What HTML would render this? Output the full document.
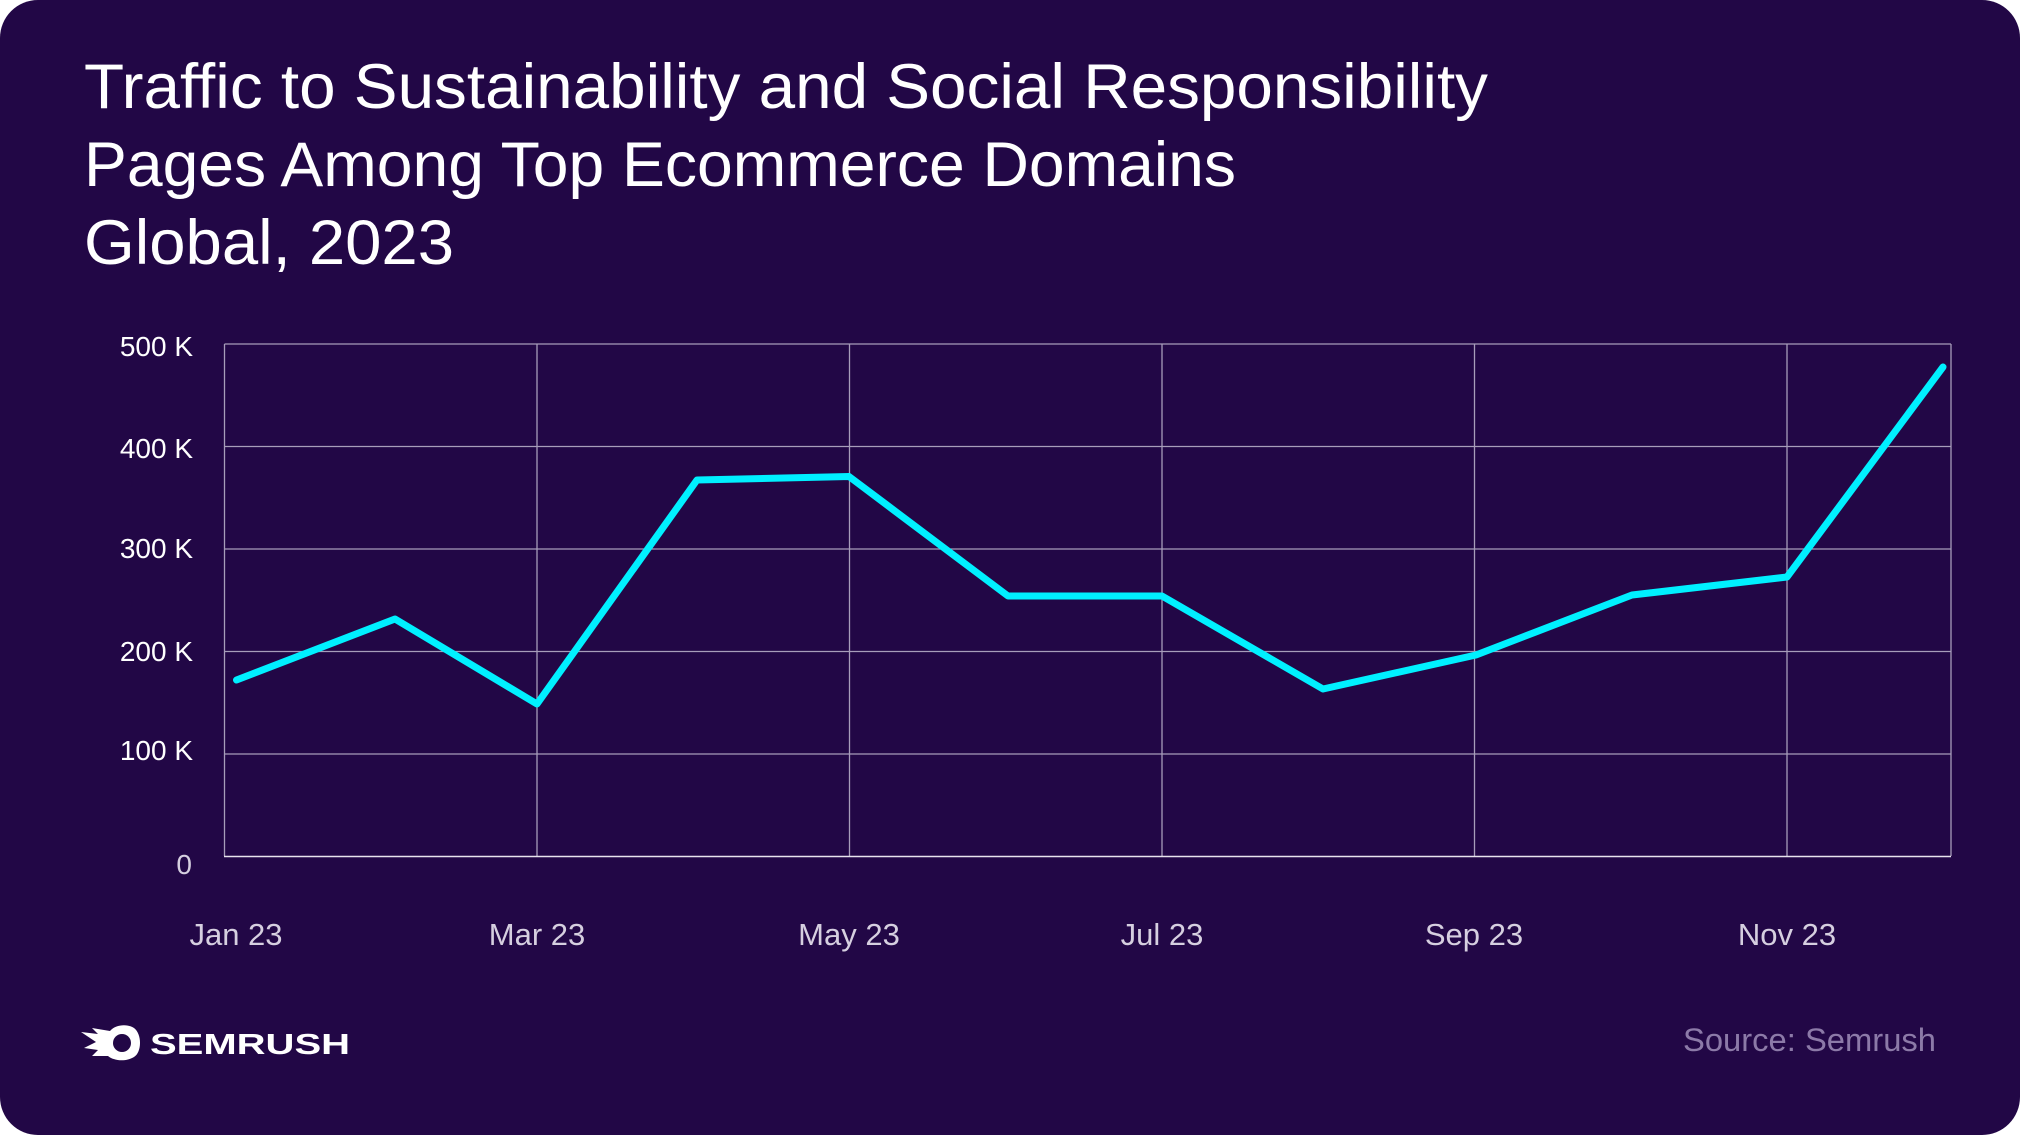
<!DOCTYPE html>
<html><head><meta charset="utf-8"><style>
html,body{margin:0;padding:0;background:#fff;}
svg{display:block;}
</style></head><body>
<svg width="2020" height="1137" viewBox="0 0 2020 1137" xmlns="http://www.w3.org/2000/svg" font-family="Liberation Sans, sans-serif">
<rect x="0" y="0" width="2020" height="1135" rx="38" fill="#220746"/>
<g fill="#ffffff" font-size="63">
<text x="84" y="108" textLength="1404" lengthAdjust="spacingAndGlyphs">Traffic to Sustainability and Social Responsibility</text>
<text x="84" y="186" textLength="1152" lengthAdjust="spacingAndGlyphs">Pages Among Top Ecommerce Domains</text>
<text x="84" y="264" textLength="370" lengthAdjust="spacingAndGlyphs">Global, 2023</text>
</g>
<g stroke="#a79dba" stroke-width="1.3" fill="none">
<line x1="224.5" y1="344" x2="1951" y2="344"/>
<line x1="224.5" y1="446.5" x2="1951" y2="446.5"/>
<line x1="224.5" y1="549" x2="1951" y2="549"/>
<line x1="224.5" y1="651.5" x2="1951" y2="651.5"/>
<line x1="224.5" y1="754" x2="1951" y2="754"/>
<line x1="224.5" y1="344" x2="224.5" y2="856"/>
<line x1="537" y1="344" x2="537" y2="856"/>
<line x1="849.5" y1="344" x2="849.5" y2="856"/>
<line x1="1162" y1="344" x2="1162" y2="856"/>
<line x1="1474.5" y1="344" x2="1474.5" y2="856"/>
<line x1="1787" y1="344" x2="1787" y2="856"/>
<line x1="1951" y1="344" x2="1951" y2="856"/>
</g>
<line x1="224" y1="856.5" x2="1951" y2="856.5" stroke="#e8e4ee" stroke-width="1.6"/>
<g fill="#ffffff" font-size="28" text-anchor="end">
<text x="193" y="356">500 K</text>
<text x="193" y="458">400 K</text>
<text x="193" y="558">300 K</text>
<text x="193" y="661">200 K</text>
<text x="193" y="760">100 K</text>
<text x="192" y="874" fill="#d6cfe0">0</text>
</g>
<g fill="#d6cfe0" font-size="31" text-anchor="middle">
<text x="236" y="945">Jan 23</text>
<text x="537" y="945">Mar 23</text>
<text x="849" y="945">May 23</text>
<text x="1162" y="945">Jul 23</text>
<text x="1474" y="945">Sep 23</text>
<text x="1787" y="945">Nov 23</text>
</g>
<polyline fill="none" stroke="#00f0ff" stroke-width="7" stroke-linejoin="round" stroke-linecap="round"
points="236.5,680 395,619 537,704 697,480 849,476.5 1008,596 1162,596 1323,689 1476,655 1632,595 1787,577 1943,367"/>
<g fill="#ffffff">
<path d="M81,1032 L98,1034 L92,1028 L110,1031 C116,1024 128,1024 134,1028 C142,1034 142,1052 134,1057 C126,1062 114,1061 108,1056 L92,1056 L98,1050 L84,1048 L96,1042 Z"/>
<circle cx="122" cy="1043" r="9" fill="#220746"/>
<text x="150" y="1054" font-size="29" font-weight="bold" textLength="200" lengthAdjust="spacingAndGlyphs">SEMRUSH</text>
</g>
<text x="1683" y="1051" font-size="32" fill="#8c7aa8" textLength="253" lengthAdjust="spacingAndGlyphs">Source: Semrush</text>
</svg>
</body></html>
